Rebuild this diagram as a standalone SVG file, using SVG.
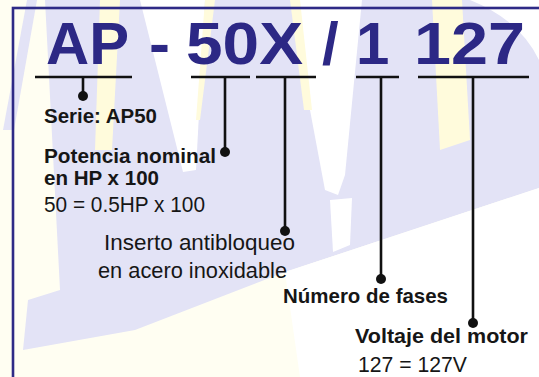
<svg xmlns="http://www.w3.org/2000/svg" width="539" height="377" viewBox="0 0 539 377">
<defs>
<style>
.lav{fill:#e3e3f6}
.yel{fill:#fffbdc}
.wht{fill:#ffffff}
.title{font-family:"Liberation Sans",Arial,sans-serif;font-weight:bold;font-size:60px;fill:#2c2885}
.b{font-family:"Liberation Sans",Arial,sans-serif;font-weight:bold;font-size:21px;fill:#161616}
.r{font-family:"Liberation Sans",Arial,sans-serif;font-size:21.5px;fill:#161616}
.ln{stroke:#111;stroke-width:2.6;fill:none}
.dot{fill:#111}
</style>
</defs>
<g id="background">
<rect x="0" y="0" width="539" height="377" fill="#fffef2"/>
<polygon class="lav" points="27,0 37,0 14,130 3,130"/>
<polygon class="lav" points="45,0 539,0 539,188 285,272 135,330 23,350 28,300 60,290"/>
<polygon class="yel" points="100,0 120,0 112,150 95,150"/>
<polygon class="wht" points="140,0 205,0 196,170 183,172"/>
<polygon class="yel" points="205,0 215,0 200,120 196,120"/>
<polygon class="wht" points="298,0 362,0 345,175 338,195 325,190 310,110"/>
<polygon class="yel" points="290,0 300,0 312,110 304,110"/>
<polygon class="yel" points="432,0 462,0 470,140 440,150"/>
<path class="wht" d="M470,0 L539,0 L539,60 Q520,20 470,0 Z"/>
<polygon class="wht" points="539,188 539,377 300,377 285,272"/>
<polygon class="wht" points="330,200 352,198 350,245 333,252"/>
</g>
<rect id="frame" x="13" y="8" width="540" height="380" fill="none" stroke="#2e2a86" stroke-width="2.6"/>
<g id="title">
<text class="title" x="46" y="64" textLength="83" lengthAdjust="spacingAndGlyphs">AP</text>
<text class="title" x="149" y="64" textLength="21" lengthAdjust="spacingAndGlyphs">-</text>
<text class="title" x="186" y="64" textLength="117" lengthAdjust="spacingAndGlyphs">50X</text>
<text class="title" x="322" y="64">/</text>
<text class="title" x="356" y="64">1</text>
<text class="title" x="414" y="64" textLength="111" lengthAdjust="spacingAndGlyphs">127</text>
</g>
<g id="connectors">
<line class="ln" x1="35" y1="77" x2="132" y2="77"/>
<line class="ln" x1="83" y1="77" x2="83" y2="96"/>
<circle class="dot" cx="83" cy="96" r="5"/>
<line class="ln" x1="191" y1="77" x2="250" y2="77"/>
<line class="ln" x1="225" y1="77" x2="225" y2="152"/>
<circle class="dot" cx="225" cy="152" r="5"/>
<line class="ln" x1="256" y1="77" x2="316" y2="77"/>
<line class="ln" x1="285" y1="77" x2="285" y2="231"/>
<circle class="dot" cx="285" cy="231" r="5"/>
<line class="ln" x1="356" y1="77" x2="399" y2="77"/>
<line class="ln" x1="381" y1="77" x2="381" y2="279"/>
<circle class="dot" cx="381" cy="279" r="5"/>
<line class="ln" x1="418" y1="77" x2="529" y2="77"/>
<line class="ln" x1="473" y1="77" x2="473" y2="323"/>
<circle class="dot" cx="473" cy="323" r="5"/>
</g>
<g id="serie">
<text class="b" x="44" y="123" textLength="113" lengthAdjust="spacingAndGlyphs">Serie: AP50</text>
</g>
<g id="potencia">
<text class="b" x="44" y="163" textLength="172" lengthAdjust="spacingAndGlyphs">Potencia nominal</text>
<text class="b" x="44" y="185" textLength="115" lengthAdjust="spacingAndGlyphs">en HP x 100</text>
<text class="r" x="44" y="212" textLength="161" lengthAdjust="spacingAndGlyphs">50 = 0.5HP x 100</text>
</g>
<g id="inserto">
<text class="r" x="104" y="250" textLength="191" lengthAdjust="spacingAndGlyphs">Inserto antibloqueo</text>
<text class="r" x="98" y="278" textLength="189" lengthAdjust="spacingAndGlyphs">en acero inoxidable</text>
</g>
<g id="fases">
<text class="b" x="283" y="303" textLength="165" lengthAdjust="spacingAndGlyphs">Número de fases</text>
</g>
<g id="voltaje">
<text class="b" x="355" y="343" textLength="173" lengthAdjust="spacingAndGlyphs">Voltaje del motor</text>
<text class="r" x="358" y="372" textLength="109" lengthAdjust="spacingAndGlyphs">127 = 127V</text>
</g>
</svg>
